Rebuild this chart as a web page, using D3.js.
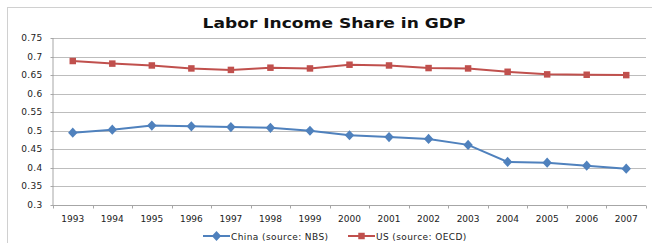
<!DOCTYPE html>
<html>
<head>
<meta charset="utf-8">
<script src="https://cdn.jsdelivr.net/npm/d3@7"></script>
<style>
  html, body { margin: 0; padding: 0; background: #fff; }
  svg { display: block; font-family: "DejaVu Sans", Verdana, sans-serif; }
</style>
</head>
<body>
<div id="chart"></div>
<script>
const years = ["1993","1994","1995","1996","1997","1998","1999","2000","2001","2002","2003","2004","2005","2006","2007"];
const chinaShare = [0.495,0.503,0.514,0.512,0.510,0.508,0.500,0.488,0.483,0.478,0.462,0.416,0.414,0.406,0.398];
const usShare = [0.688,0.681,0.676,0.668,0.664,0.670,0.668,0.678,0.676,0.669,0.668,0.659,0.652,0.651,0.650];
const yTicks = [0.3,0.35,0.4,0.45,0.5,0.55,0.6,0.65,0.7,0.75];

const W = 652, H = 243;
const m = { left: 53, right: 6, top: 38, bottom: 38 };

const svg = d3.select("#chart").append("svg").attr("width", W).attr("height", H);

// outer chart border
svg.append("rect").attr("x", 7.5).attr("y", 7.5).attr("width", W).attr("height", H)
  .attr("fill", "none").attr("stroke", "#d0d0d0").attr("stroke-width", 1);

// the source image is stretched sideways, so the title is widened the same way
svg.append("text").attr("transform", "translate(334,28) scale(1.22,1)").attr("text-anchor", "middle")
  .style("font-size", "14px").style("font-weight", "bold")
  .attr("fill", "#111")
  .text("Labor Income Share in GDP");

const x = d3.scaleBand().domain(years).range([m.left, W - m.right]);
const y = d3.scaleLinear().domain([0.3, 0.75]).range([205, 38]);

// gridlines
svg.append("g").selectAll("line").data(yTicks.slice(1)).join("line")
  .attr("x1", m.left).attr("x2", W - m.right)
  .attr("y1", d => Math.round(y(d)) + 0.5).attr("y2", d => Math.round(y(d)) + 0.5)
  .attr("stroke", "#bdbdbd").attr("stroke-width", 1);

// y axis
const yAxis = svg.append("g").attr("transform", `translate(${m.left + 0.5},0)`)
  .call(d3.axisLeft(y).tickValues(yTicks).tickSize(3).tickFormat(d => String(+d.toFixed(2))));
yAxis.select(".domain").attr("stroke", "#a6a6a6").attr("d", `M-0.5,${y(0.75)}V${y(0.3)}`);
yAxis.selectAll(".tick line").attr("stroke", "#a6a6a6");
yAxis.selectAll("text").attr("x", -11).style("font-size", "9px").style("letter-spacing", "0.3px")
  .attr("fill", "#222").style("font-family", "DejaVu Sans");
yAxis.selectAll(".tick").attr("transform", d => `translate(0,${Math.round(y(d)) + 0.5})`);

// x axis
const xb = Math.round(y(0.3)) + 0.5;
const xAxis = svg.append("g").attr("transform", `translate(0,${xb})`);
xAxis.append("line").attr("x1", m.left).attr("x2", W - m.right).attr("stroke", "#a6a6a6");
xAxis.selectAll("line.tk").data(d3.range(years.length + 1)).join("line").attr("class", "tk")
  .attr("x1", i => Math.round(m.left + i * x.step()) + 0.5).attr("x2", i => Math.round(m.left + i * x.step()) + 0.5)
  .attr("y1", 0).attr("y2", 3).attr("stroke", "#a6a6a6");
xAxis.selectAll("text").data(years).join("text")
  .attr("x", d => x(d) + x.bandwidth() / 2).attr("y", 16).attr("text-anchor", "middle")
  .style("font-size", "9px").attr("fill", "#222").text(d => d);

const cx = (d, i) => x(years[i]) + x.bandwidth() / 2;
const line = d3.line().x(cx).y(d => y(d));

const series = [
  { name: "China (source: NBS)", values: chinaShare, color: "#4f81bd", marker: "diamond" },
  { name: "US (source: OECD)", values: usShare, color: "#c0504d", marker: "square" }
];

// Excel-style markers: diamonds are as wide as they are tall
const markerPath = (s) => s.marker === "diamond"
  ? d3.symbol(d3.symbolDiamond, 30)()
  : d3.symbol(d3.symbolSquare, 42)();
const markerScale = (s) => s.marker === "diamond" ? " scale(1.6,1)" : "";

series.forEach(s => {
  svg.append("path").datum(s.values).attr("d", line)
    .attr("fill", "none").attr("stroke", s.color).attr("stroke-width", 2);
  svg.append("g").selectAll("path").data(s.values).join("path")
    .attr("transform", (d, i) => `translate(${cx(d, i)},${y(d)})${markerScale(s)}`)
    .attr("d", markerPath(s)).attr("fill", s.color);
});

// legend
const legX = [203, 348];
series.forEach((s, i) => {
  const g = svg.append("g").attr("transform", `translate(${legX[i]},236)`);
  g.append("line").attr("x1", 0).attr("x2", 27).attr("stroke", s.color).attr("stroke-width", 2);
  g.append("path").attr("transform", `translate(13.5,0)${markerScale(s)}`)
    .attr("d", markerPath(s)).attr("fill", s.color);
  g.append("text").attr("x", 28).attr("y", 3.5).style("font-size", "9px").style("letter-spacing", "0.4px")
    .attr("fill", "#222").text(s.name);
});
</script>
</body>
</html>
